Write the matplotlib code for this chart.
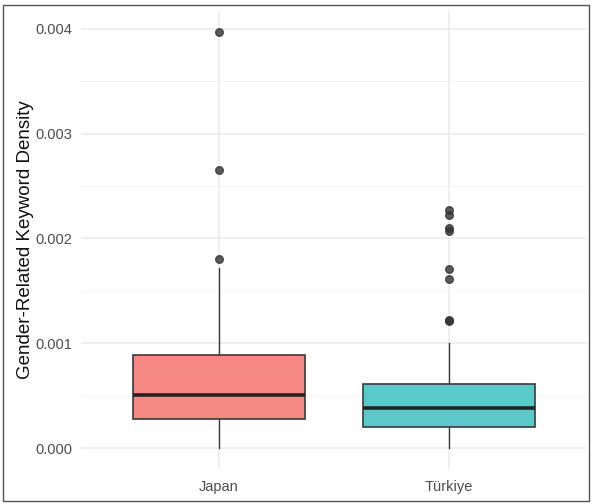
import matplotlib
matplotlib.use("Agg")
import matplotlib.pyplot as plt
from matplotlib.patches import Rectangle

plt.rcParams['font.family'] = ['Liberation Sans', 'DejaVu Sans']

categories = ["Japan", "Türkiye"]
whisker_low = [0.0, 0.0]
q1 = [0.000277, 0.000203]
median = [0.000506, 0.000379]
q3 = [0.00089, 0.00061]
whisker_high = [0.00172, 0.00100]
outliers = [
    [0.00180, 0.00265, 0.00397],
    [0.00121, 0.00122, 0.00161, 0.00171, 0.00207, 0.00210, 0.00222, 0.00227],
]
fill_colors = ["#F68884", "#5BC9CA"]
y_ticks = [0.0, 0.001, 0.002, 0.003, 0.004]
y_tick_labels = ["0.000", "0.001", "0.002", "0.003", "0.004"]
y_minor = [0.0005, 0.0015, 0.0025, 0.0035]

fig = plt.figure(figsize=(5.93, 5.04), dpi=100)
ax = fig.add_axes([81/593, 1 - 469/504, (587-81)/593, (469-11)/504])

positions = [1, 2]
stats = []
for i, c in enumerate(categories):
    stats.append(dict(label=c, whislo=whisker_low[i], q1=q1[i], med=median[i],
                      q3=q3[i], whishi=whisker_high[i], fliers=outliers[i]))

edge = "#3a3a3a"
bp = ax.bxp(stats, positions=positions, widths=0.75, patch_artist=True,
            showcaps=False,
            boxprops=dict(edgecolor=edge, linewidth=1.2),
            whiskerprops=dict(color=edge, linewidth=1.0),
            medianprops=dict(color="#222222", linewidth=2.6, solid_capstyle='butt'),
            flierprops=dict(marker='o', markerfacecolor='#333333', markeredgecolor='#333333',
                            markersize=5.5, alpha=0.8, linestyle='none'))
for patch, col in zip(bp['boxes'], fill_colors):
    patch.set_facecolor(col)
    patch.set_edgecolor(edge)
for w in bp['whiskers']:
    w.set_zorder(1)

ax.set_xlim(0.4, 2.6)
ax.set_ylim(-0.0002, 0.00417)
ax.set_yticks(y_ticks)
ax.set_yticklabels(y_tick_labels)
ax.set_yticks(y_minor, minor=True)
ax.set_xticks(positions)
ax.set_xticklabels(categories)

ax.grid(True, which='major', color='#EBEBEB', linewidth=1.1, zorder=0)
ax.grid(True, which='minor', axis='y', color='#F2F2F2', linewidth=0.6, zorder=0)
ax.set_axisbelow(True)
for s in ax.spines.values():
    s.set_visible(False)
ax.tick_params(axis='both', which='both', length=0, labelsize=10.5, labelcolor='#4D4D4D')
ax.tick_params(axis='y', pad=6)
ax.tick_params(axis='x', pad=8)
ax.set_ylabel("Gender-Related Keyword Density", fontsize=13.5, color='#111111', labelpad=1)

fig.patches.append(Rectangle((3/593, 3/504), 586/593, 496/504, transform=fig.transFigure,
                             fill=False, edgecolor='#555555', linewidth=1.0))

fig.savefig("out.png", dpi=100)
